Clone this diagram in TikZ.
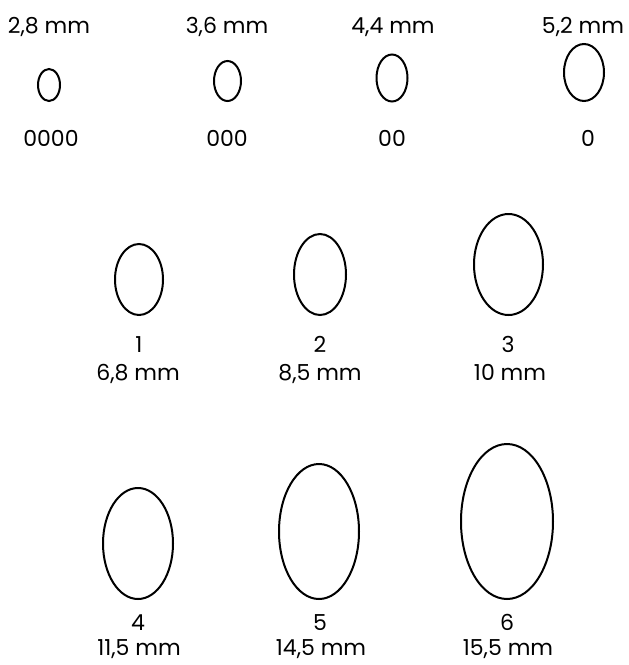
\documentclass[tikz,border=0pt]{standalone}
\usepackage{fontspec}
\setmainfont{Poppins}
\usepackage{tikz}
\usetikzlibrary{shapes.geometric}

\begin{document}
\begin{tikzpicture}[
    x=1pt, y=-1pt,
    ring/.style={ellipse, draw, line width=2pt, inner sep=0pt},
    size/.style={anchor=base, inner sep=0pt, font=\fontsize{22}{26}\selectfont}
]
    \useasboundingbox (0,0) rectangle (629,665);

    % Rings, small sizes
    \node[ring, minimum width=22, minimum height=32] (r0000) at (49,85) {};
    \node[ring, minimum width=27, minimum height=40] (r000) at (227.5,81) {};
    \node[ring, minimum width=31, minimum height=47] (r00) at (392,78) {};
    \node[ring, minimum width=40, minimum height=57] (r0) at (584,72.5) {};

    % Rings, sizes 1 to 6
    \node[ring, minimum width=48, minimum height=71] (r1) at (139,279.5) {};
    \node[ring, minimum width=52, minimum height=81] (r2) at (320,274.5) {};
    \node[ring, minimum width=69, minimum height=101] (r3) at (508.5,264.5) {};
    \node[ring, minimum width=70, minimum height=111] (r4) at (138,543.5) {};
    \node[ring, minimum width=80, minimum height=135] (r5) at (319,531.5) {};
    \node[ring, minimum width=92, minimum height=155] (r6) at (507,521.5) {};

    % Labels
    \node[size] (d0000) at (49,33) {2,8 mm};
    \node[size] (d000) at (227,33) {3,6 mm};
    \node[size] (d00) at (393,33) {4,4 mm};
    \node[size] (d0) at (583,33) {5,2 mm};
    \node[size] (n0000) at (51,146) {0000};
    \node[size] (n000) at (227,146) {000};
    \node[size] (n00) at (392,146) {00};
    \node[size] (n0) at (588,146) {0};

    \node[size] (n1) at (139,352) {1};
    \node[size] (d1) at (138,380) {6,8 mm};
    \node[size] (n2) at (320,352) {2};
    \node[size] (d2) at (320,380) {8,5 mm};
    \node[size] (n3) at (508,352) {3};
    \node[size] (d3) at (510,380) {10 mm};

    \node[size] (n4) at (138,630) {4};
    \node[size] (d4) at (139,655) {11,5 mm};
    \node[size] (n5) at (320,630) {5};
    \node[size] (d5) at (321,655) {14,5 mm};
    \node[size] (n6) at (507,630) {6};
    \node[size] (d6) at (508,655) {15,5 mm};
\end{tikzpicture}
\end{document}
